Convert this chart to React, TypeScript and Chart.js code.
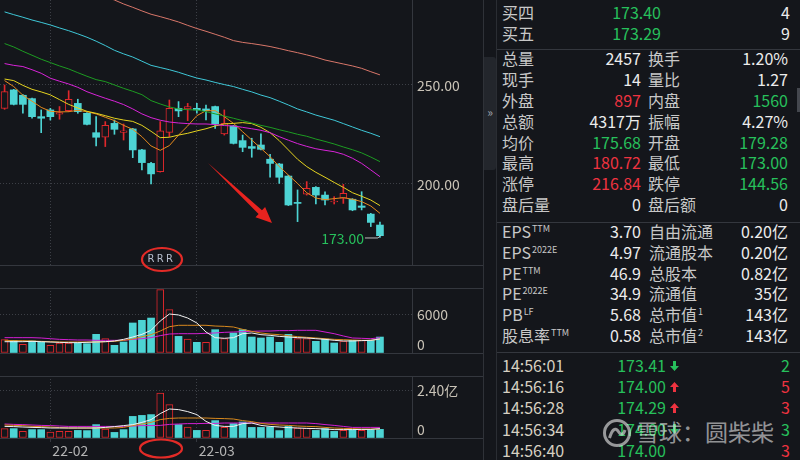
import React, { useEffect, useRef } from "react";
import { Chart, registerables } from "chart.js";

Chart.register(...registerables);

const BG = "#14161b";
const SEP = "#34373e";
const GRID = "#3c3f46";
const AXIS_TEXT = "#c9c3b7";
const UP = "#e0282c";
const DOWN = "#4dd4d4";
const GREEN = "#27c05c";
const RED = "#ee3340";
const LABEL = "#c8c8c8";
const VALUE = "#ececec";
const TIME = "#d6d0c2";
const FONT = '"Noto Sans CJK SC", "Noto Sans", sans-serif';

// ---------- data ----------
const dates = [
  "2022-01-24", "2022-01-25", "2022-01-26", "2022-01-27", "2022-01-28",
  "2022-02-07", "2022-02-08", "2022-02-09", "2022-02-10", "2022-02-11",
  "2022-02-14", "2022-02-15", "2022-02-16", "2022-02-17", "2022-02-18",
  "2022-02-21", "2022-02-22", "2022-02-23", "2022-02-24", "2022-02-25",
  "2022-02-28", "2022-03-01", "2022-03-02", "2022-03-03", "2022-03-04",
  "2022-03-07", "2022-03-08", "2022-03-09", "2022-03-10", "2022-03-11",
  "2022-03-14", "2022-03-15", "2022-03-16", "2022-03-17", "2022-03-18",
  "2022-03-21", "2022-03-22", "2022-03-23", "2022-03-24", "2022-03-25",
  "2022-03-28", "2022-03-29",
];

const opens = [238.2, 247.5, 244.8, 243.1, 234.0, 237.4, 235.2, 237.0, 240.7, 235.7, 225.9, 223.6, 230.6, 226.1, 227.8, 217.2, 210.4, 206.2, 226.1, 238.2, 237.9, 238.2, 237.9, 239.1, 225.3, 229.3, 221.9, 218.9, 219.7, 212.5, 210.1, 204.0, 190.7, 194.9, 198.3, 194.4, 190.9, 192.8, 192.3, 188.9, 184.8, 179.28];
const highs = [250.0, 247.8, 245.1, 243.4, 237.4, 238.2, 239.1, 247.1, 242.8, 236.0, 234.0, 231.5, 232.3, 230.3, 228.1, 217.5, 210.9, 231.5, 242.4, 241.6, 240.7, 240.7, 239.9, 239.4, 237.4, 229.6, 224.7, 223.1, 225.3, 215.0, 210.4, 204.4, 197.0, 201.2, 198.7, 196.1, 193.6, 199.8, 192.6, 196.1, 185.2, 180.72];
const lows = [237.7, 239.9, 235.7, 233.2, 225.9, 232.3, 232.7, 236.5, 235.7, 229.8, 219.2, 218.9, 225.1, 222.2, 213.3, 207.1, 200.0, 206.0, 223.9, 234.0, 232.0, 235.7, 232.3, 228.1, 224.7, 220.2, 216.3, 213.5, 217.2, 203.4, 200.3, 189.1, 181.0, 194.4, 189.9, 189.4, 189.9, 190.2, 186.5, 186.9, 178.5, 173.0];
const closes = [246.6, 240.2, 240.2, 234.0, 233.2, 234.0, 236.0, 242.8, 236.5, 230.1, 223.6, 229.6, 227.6, 226.8, 217.2, 210.8, 205.1, 226.9, 238.2, 236.9, 239.1, 237.4, 237.0, 230.3, 230.6, 220.5, 218.5, 218.0, 217.5, 210.4, 203.4, 189.4, 190.2, 197.8, 194.4, 191.9, 191.4, 195.3, 186.9, 188.2, 180.6, 173.9];

const ma5 = [252.2, 249.2, 244.8, 241.8, 238.7, 236.7, 236.4, 236.5, 237.2, 236.5, 235.4, 233.7, 232.0, 229.6, 227.6, 223.9, 219.2, 217.0, 219.4, 224.7, 229.3, 234.5, 237.0, 237.0, 234.0, 230.6, 226.4, 222.2, 218.0, 213.8, 208.8, 204.5, 200.3, 195.6, 192.9, 192.1, 192.6, 193.1, 192.3, 191.1, 188.9, 185.2];
const ma10 = [253.0, 252.2, 249.8, 247.8, 246.5, 245.0, 242.6, 240.2, 238.4, 236.7, 235.7, 234.5, 233.2, 232.3, 231.6, 229.6, 226.6, 223.4, 223.6, 224.7, 225.6, 226.8, 227.9, 229.3, 230.3, 230.6, 231.0, 230.5, 228.6, 225.9, 221.9, 217.2, 212.5, 208.8, 205.9, 203.4, 200.8, 198.3, 195.6, 193.8, 191.9, 189.1];
const ma20 = [260.8, 259.9, 259.3, 257.7, 255.9, 253.4, 251.9, 250.5, 248.8, 246.6, 244.9, 243.3, 241.8, 240.1, 237.9, 235.4, 233.5, 232.2, 231.3, 230.8, 230.5, 230.3, 230.3, 230.0, 229.5, 229.3, 228.6, 227.9, 227.1, 225.9, 223.9, 222.1, 220.4, 219.0, 217.8, 217.0, 216.3, 215.0, 213.0, 210.4, 207.1, 203.7];
const ma30 = [270.9, 269.2, 267.0, 265.0, 263.0, 261.3, 259.6, 258.1, 256.2, 254.4, 252.7, 251.7, 250.0, 248.3, 246.8, 245.1, 242.1, 240.4, 238.9, 237.9, 237.5, 237.4, 236.5, 235.4, 234.3, 233.2, 232.0, 230.8, 229.6, 228.6, 227.4, 226.3, 225.1, 224.1, 222.7, 221.5, 220.2, 218.7, 217.3, 215.7, 213.6, 211.3];
const ma60 = [286.9, 285.5, 284.2, 282.8, 281.6, 280.3, 278.8, 277.4, 275.8, 274.1, 272.1, 269.9, 267.5, 265.7, 264.1, 262.0, 259.9, 258.8, 257.7, 256.4, 254.9, 253.5, 252.5, 251.3, 250.2, 249.2, 247.8, 246.5, 244.9, 243.6, 241.8, 239.9, 237.9, 236.4, 234.8, 233.5, 232.2, 230.5, 228.8, 227.1, 225.6, 223.9];
const ma120 = [null, null, null, null, null, null, null, null, null, null, null, 294.6, 292.9, 290.9, 289.2, 287.4, 285.7, 284.5, 283.2, 281.8, 280.1, 278.5, 277.1, 275.6, 274.1, 272.4, 271.5, 270.9, 270.2, 269.4, 268.4, 267.3, 266.3, 265.2, 264.0, 262.6, 261.6, 260.6, 259.6, 258.4, 256.7, 255.1];

const volumes = [2050, 1950, 1330, 1850, 1690, 1180, 1540, 1540, 1540, 1440, 2870, 2200, 1180, 1690, 4620, 5030, 5380, 9740, 6670, 2560, 2150, 1640, 1640, 3590, 2200, 3080, 3590, 2460, 2310, 2460, 1640, 2870, 2200, 2200, 1800, 2150, 1540, 1850, 1950, 1950, 1950, 2457];
const volRise = [1, 0, 1, 0, 0, 1, 1, 1, 0, 0, 0, 1, 0, 0, 0, 0, 0, 1, 1, 0, 1, 0, 1, 0, 1, 0, 0, 0, 0, 0, 0, 0, 1, 1, 0, 0, 0, 1, 0, 1, 0, 0];
const volMa5 = [1740, 1740, 1740, 1790, 1740, 1690, 1640, 1590, 1590, 1640, 1690, 1740, 1850, 2100, 2460, 2870, 3490, 4920, 6000, 5850, 5380, 4620, 3230, 2360, 2260, 2360, 2970, 3080, 2820, 2720, 2560, 2460, 2360, 2310, 2200, 2100, 1950, 1850, 1850, 1900, 1950, 2150];
const volMa10 = [1950, 1900, 1900, 1850, 1790, 1740, 1690, 1690, 1690, 1690, 1690, 1740, 1790, 1950, 2150, 2510, 2820, 3380, 4050, 4260, 4260, 4260, 4260, 4150, 4100, 4000, 3640, 3330, 3080, 2920, 2820, 2670, 2510, 2410, 2310, 2200, 2100, 2050, 2000, 1950, 1950, 2150];
const volMa20 = [2360, 2360, 2360, 2360, 2310, 2200, 2100, 2050, 2000, 2000, 1950, 1950, 1950, 1950, 2100, 2200, 2360, 2670, 2920, 2970, 2970, 2970, 3030, 3080, 3180, 3230, 3280, 3330, 3380, 3380, 3440, 3440, 3490, 3490, 3490, 3230, 2970, 2620, 2310, 2260, 2200, 2360];

const amounts = [0.47, 0.47, 0.33, 0.42, 0.42, 0.30, 0.33, 0.33, 0.38, 0.37, 0.67, 0.45, 0.28, 0.42, 1.08, 1.13, 1.17, 2.25, 1.67, 0.67, 0.55, 0.38, 0.38, 0.87, 0.53, 0.72, 0.80, 0.53, 0.53, 0.55, 0.37, 0.58, 0.50, 0.50, 0.38, 0.47, 0.33, 0.38, 0.42, 0.38, 0.42, 0.4317];
const amtMa5 = [0.58, 0.57, 0.55, 0.53, 0.52, 0.50, 0.50, 0.50, 0.50, 0.50, 0.50, 0.53, 0.57, 0.62, 0.67, 0.78, 0.92, 1.22, 1.45, 1.42, 1.32, 1.17, 0.83, 0.63, 0.58, 0.58, 0.72, 0.75, 0.63, 0.58, 0.55, 0.52, 0.50, 0.48, 0.47, 0.45, 0.42, 0.42, 0.42, 0.43, 0.43, 0.47];
const amtMa10 = [0.65, 0.63, 0.62, 0.58, 0.57, 0.55, 0.52, 0.50, 0.50, 0.50, 0.50, 0.50, 0.50, 0.53, 0.62, 0.70, 0.78, 0.92, 0.98, 1.00, 1.00, 1.00, 1.00, 0.98, 0.97, 0.95, 0.87, 0.82, 0.73, 0.68, 0.65, 0.63, 0.60, 0.58, 0.57, 0.53, 0.50, 0.48, 0.47, 0.45, 0.45, 0.45];
const amtMa20 = [0.70, 0.68, 0.67, 0.65, 0.63, 0.62, 0.60, 0.58, 0.58, 0.58, 0.58, 0.58, 0.58, 0.58, 0.60, 0.62, 0.62, 0.63, 0.68, 0.70, 0.72, 0.72, 0.73, 0.73, 0.75, 0.75, 0.75, 0.75, 0.75, 0.75, 0.75, 0.75, 0.75, 0.75, 0.72, 0.67, 0.63, 0.58, 0.53, 0.53, 0.53, 0.53];

const priceTicks = [200, 250];
const volTicks = [0, 6000];
const amtTicks = [0, 2.4];
const rMarkers = [16, 17, 18];

const buyRows = [
  ["买四", "173.40", "4"],
  ["买五", "173.29", "9"],
];
// label, value, colour, label, value, colour
const quoteRows = [
  ["总量", "2457", "w", "换手", "1.20%", "w"],
  ["现手", "14", "w", "量比", "1.27", "w"],
  ["外盘", "897", "r", "内盘", "1560", "g"],
  ["总额", "4317万", "w", "振幅", "4.27%", "w"],
  ["均价", "175.68", "g", "开盘", "179.28", "g"],
  ["最高", "180.72", "r", "最低", "173.00", "g"],
  ["涨停", "216.84", "r", "跌停", "144.56", "g"],
  ["盘后量", "0", "w", "盘后额", "0", "w"],
];
// label, superscript, value, label, superscript, value
const fundRows = [
  ["EPS", "TTM", "3.70", "自由流通", "", "0.20亿"],
  ["EPS", "2022E", "4.97", "流通股本", "", "0.20亿"],
  ["PE", "TTM", "46.9", "总股本", "", "0.82亿"],
  ["PE", "2022E", "34.9", "流通值", "", "35亿"],
  ["PB", "LF", "5.68", "总市值", "1", "143亿"],
  ["股息率", "TTM", "0.58", "总市值", "2", "143亿"],
];
// time, price, arrow, count, count colour
const tradeRows = [
  ["14:56:01", "173.41", "down", "2", "g"],
  ["14:56:16", "174.00", "up", "5", "r"],
  ["14:56:28", "174.29", "up", "3", "r"],
  ["14:56:34", "174.00", "down", "3", "g"],
  ["14:56:40", "174.00", "", "3", "r"],
];

// ---------- helpers ----------
const idx = dates.map((_, i) => i);
const monthStarts = idx.filter((i) => i > 0 && dates[i].slice(0, 7) !== dates[i - 1].slice(0, 7));
const colorOf = (k: string) => (k === "r" ? RED : k === "g" ? GREEN : VALUE);

function xScale(showLabels: boolean) {
  return {
    type: "linear",
    min: -0.5,
    max: 44.5,
    offset: false,
    afterBuildTicks: (s: any) => {
      s.ticks = monthStarts.map((v) => ({ value: v }));
    },
    afterFit: (s: any) => {
      s.height = showLabels ? 22 : 1;
      s.paddingLeft = 0;
      s.paddingRight = 0;
    },
    grid: {
      color: GRID,
      offset: false,
      drawTicks: showLabels,
      tickLength: 4,
      tickColor: SEP,
    },
    border: { display: false, dash: [1, 2] },
    ticks: {
      display: showLabels,
      autoSkip: false,
      maxRotation: 0,
      align: "start",
      labelOffset: 2,
      padding: 0,
      color: "#b4b4b4",
      font: { family: FONT, size: 14 },
      callback: (v: any) => (dates[Math.round(v)] ? dates[Math.round(v)].slice(2, 7) : ""),
    },
  };
}

function yScale(min: number, max: number, tickVals: number[]) {
  return {
    position: "right",
    min,
    max,
    afterBuildTicks: (s: any) => {
      s.ticks = tickVals.map((v) => ({ value: v }));
    },
    afterFit: (s: any) => {
      s.width = 71;
      s.paddingTop = 0;
      s.paddingBottom = 0;
    },
    grid: { color: GRID, drawTicks: false, offset: false },
    border: { display: true, color: SEP, dash: [1, 2] },
    ticks: { display: false },
  };
}

function panelPlugin(top: boolean, bottom: boolean, fmt: (v: number) => string) {
  return {
    id: "panel",
    afterDraw(chart: any) {
      const { ctx, chartArea, scales, width } = chart;
      ctx.save();
      ctx.strokeStyle = SEP;
      ctx.lineWidth = 1;
      ctx.setLineDash([]);
      if (top) {
        ctx.beginPath();
        ctx.moveTo(0, chartArea.top + 0.5);
        ctx.lineTo(width, chartArea.top + 0.5);
        ctx.stroke();
      }
      if (bottom) {
        ctx.beginPath();
        ctx.moveTo(0, chartArea.bottom + 0.5);
        ctx.lineTo(width, chartArea.bottom + 0.5);
        ctx.stroke();
      }
      const ys = scales.y;
      ctx.fillStyle = AXIS_TEXT;
      ctx.font = `14px ${FONT}`;
      ctx.textAlign = "left";
      ys.ticks.forEach((t: any) => {
        const py = ys.getPixelForValue(t.value);
        const atBase = t.value === ys.min;
        ctx.textBaseline = atBase ? "bottom" : "middle";
        ctx.fillText(fmt(t.value), ys.left + 5, atBase ? py - 1 : py + 1);
      });
      ctx.restore();
    },
  };
}

const markPlugin = {
  id: "marks",
  afterDatasetsDraw(chart: any) {
    const { ctx, chartArea, scales } = chart;
    const xs = scales.x;
    const ys = scales.y;
    let li = 0;
    lows.forEach((v, i) => {
      if (v < lows[li]) li = i;
    });
    const px = xs.getPixelForValue(li);
    const py = ys.getPixelForValue(lows[li]);
    ctx.save();
    ctx.strokeStyle = "#bdbdbd";
    ctx.lineWidth = 1;
    ctx.beginPath();
    ctx.moveTo(px - 15, py + 0.5);
    ctx.lineTo(px - 2, py + 0.5);
    ctx.lineTo(px + 1, py - 2.5);
    ctx.stroke();
    ctx.fillStyle = GREEN;
    ctx.font = `14px ${FONT}`;
    ctx.textAlign = "right";
    ctx.textBaseline = "middle";
    ctx.fillText(lows[li].toFixed(2), px - 16, py + 1);
    ctx.fillStyle = "#b4bccb";
    ctx.font = `10px "DejaVu Sans", sans-serif`;
    ctx.textAlign = "center";
    rMarkers.forEach((i) => ctx.fillText("R", xs.getPixelForValue(i), chartArea.bottom - 6));
    ctx.restore();
  },
};

const baseOptions = {
  responsive: false,
  animation: false,
  devicePixelRatio: 1,
  events: [],
  layout: { padding: 0 },
  plugins: { legend: { display: false }, tooltip: { enabled: false } },
};

function lineSet(data: (number | null)[], color: string) {
  return {
    type: "line",
    data: idx.map((i) => ({ x: i, y: data[i] })),
    borderColor: color,
    borderWidth: 1,
    pointRadius: 0,
    tension: 0,
    spanGaps: false,
    order: 0,
  };
}

function mainConfig(): any {
  const rise = (i: number) => closes[i] >= opens[i];
  return {
    type: "bar",
    data: {
      datasets: [
        lineSet(ma120, "#d9776a"),
        lineSet(ma60, "#3fc8d8"),
        lineSet(ma30, "#1d9c22"),
        lineSet(ma20, "#d924d9"),
        lineSet(ma10, "#e6d420"),
        lineSet(ma5, "#e68a1e"),
        {
          type: "bar",
          data: idx.map((i) => ({ x: i, y: [opens[i], closes[i]] })),
          backgroundColor: idx.map((i) => (rise(i) ? BG : DOWN)),
          borderColor: idx.map((i) => (rise(i) ? UP : DOWN)),
          borderWidth: idx.map((i) => (rise(i) ? 1 : 0)),
          borderSkipped: false,
          barThickness: 7,
          minBarLength: 1,
          grouped: false,
          order: 1,
        },
        {
          type: "bar",
          data: idx.map((i) => ({ x: i, y: [lows[i], highs[i]] })),
          backgroundColor: idx.map((i) => (rise(i) ? UP : DOWN)),
          borderWidth: 0,
          barThickness: 1,
          grouped: false,
          order: 2,
        },
      ],
    },
    options: {
      ...baseOptions,
      scales: { x: xScale(false), y: yScale(159.1, 292.9, priceTicks) },
    },
    plugins: [panelPlugin(false, true, (v) => v.toFixed(2)), markPlugin],
  };
}

function subConfig(values: number[], m5: number[], m10: number[], m20: number[], max: number, ticks: number[], showDates: boolean, fmt: (v: number) => string): any {
  return {
    type: "bar",
    data: {
      datasets: [
        lineSet(m5, "#f2f2f2"),
        lineSet(m10, "#d8891e"),
        lineSet(m20, "#d21fd2"),
        {
          type: "bar",
          data: idx.map((i) => ({ x: i, y: values[i] })),
          backgroundColor: idx.map((i) => (volRise[i] ? BG : DOWN)),
          borderColor: idx.map((i) => (volRise[i] ? UP : DOWN)),
          borderWidth: idx.map((i) => (volRise[i] ? 1 : 0)),
          borderSkipped: false,
          barThickness: 7,
          grouped: false,
          order: 1,
        },
      ],
    },
    options: {
      ...baseOptions,
      scales: { x: xScale(showDates), y: yScale(0, max, ticks) },
    },
    plugins: [panelPlugin(true, true, fmt)],
  };
}

function ChartCanvas({ build, top, height }: { build: () => any; top: number; height: number }) {
  const ref = useRef<HTMLCanvasElement>(null);
  useEffect(() => {
    const chart = new Chart(ref.current as HTMLCanvasElement, build());
    return () => chart.destroy();
  }, []);
  return (
    <canvas
      ref={ref}
      width={483}
      height={height}
      style={{ position: "absolute", left: 0, top, width: 483, height }}
    />
  );
}

function Txt({ x, r, y, c, s = 16, children }: { x?: number; r?: number; y: number; c: string; s?: number; children: React.ReactNode }) {
  return (
    <div
      style={{
        position: "absolute",
        left: x,
        right: r !== undefined ? 800 - r : undefined,
        top: y - 11,
        height: 20,
        lineHeight: "20px",
        fontSize: s,
        color: c,
        whiteSpace: "nowrap",
        fontFamily: FONT,
      }}
    >
      {children}
    </div>
  );
}

const Sup = ({ t }: { t: string }) =>
  t ? <span style={{ fontSize: 9, position: "relative", top: -6, marginLeft: 1 }}>{t}</span> : null;

function Arrow({ dir, x, y }: { dir: string; x: number; y: number }) {
  if (!dir) return null;
  const pts = dir === "down" ? "4.5,10 0,5 3,5 3,0 6,0 6,5 9,5" : "4.5,0 0,5 3,5 3,10 6,10 6,5 9,5";
  return (
    <svg style={{ position: "absolute", left: x, top: y - 5.5 }} width={9} height={10} viewBox="0 0 9 10">
      <polygon points={pts} fill={dir === "down" ? GREEN : RED} />
    </svg>
  );
}

const HLine = ({ y }: { y: number }) => (
  <div style={{ position: "absolute", left: 497, top: y, width: 303, height: 1, background: SEP }} />
);

export default function App() {
  const wm = "rgba(232,232,232,0.62)";
  return (
    <div
      style={{
        position: "fixed",
        left: 0,
        top: 0,
        width: 800,
        height: 460,
        background: BG,
        overflow: "hidden",
        fontFamily: FONT,
      }}
    >
      <ChartCanvas build={mainConfig} top={0} height={266} />
      <ChartCanvas
        build={() => subConfig(volumes, volMa5, volMa10, volMa20, 10000, volTicks, false, (v) => String(v))}
        top={288}
        height={66}
      />
      <ChartCanvas
        build={() => subConfig(amounts, amtMa5, amtMa10, amtMa20, 3.1, amtTicks, true, (v) => (v === 0 ? "0" : v.toFixed(2) + "亿"))}
        top={376}
        height={84}
      />

      {/* frame lines and collapse tab */}
      <div style={{ position: "absolute", left: 483, top: 0, width: 1, height: 460, background: "#2f3238" }} />
      <div style={{ position: "absolute", left: 496, top: 0, width: 1, height: 460, background: "#2a2d33" }} />
      <div style={{ position: "absolute", left: 484, top: 57, width: 12, height: 113, background: "#23262c", borderRadius: "0 3px 3px 0" }} />
      <div style={{ position: "absolute", left: 485, top: 104, width: 10, fontSize: 12, lineHeight: "16px", color: "#9ea2aa", textAlign: "center" }}>»</div>
      <div style={{ position: "absolute", left: 797, top: 88, width: 3, height: 24, background: "#44474e" }} />

      {/* right panel */}
      {buyRows.map((row, k) => {
        const y = 13 + 21 * k;
        return (
          <React.Fragment key={"b" + k}>
            <Txt x={502} y={y} c={LABEL}>{row[0]}</Txt>
            <Txt r={661} y={y} c={GREEN}>{row[1]}</Txt>
            <Txt r={790} y={y} c={VALUE}>{row[2]}</Txt>
          </React.Fragment>
        );
      })}
      <HLine y={49} />
      {quoteRows.map((row, k) => {
        const y = 59.3 + 20.8 * k;
        return (
          <React.Fragment key={"q" + k}>
            <Txt x={502} y={y} c={LABEL}>{row[0]}</Txt>
            <Txt r={641} y={y} c={colorOf(row[2])}>{row[1]}</Txt>
            <Txt x={648} y={y} c={LABEL}>{row[3]}</Txt>
            <Txt r={788} y={y} c={colorOf(row[5])}>{row[4]}</Txt>
          </React.Fragment>
        );
      })}
      <HLine y={222} />
      {fundRows.map((row, k) => {
        const y = 232.3 + 20.7 * k;
        return (
          <React.Fragment key={"f" + k}>
            <Txt x={502} y={y} c={LABEL}>
              {row[0]}
              <Sup t={row[1]} />
            </Txt>
            <Txt r={641} y={y} c={VALUE}>{row[2]}</Txt>
            <Txt x={649} y={y} c={LABEL}>
              {row[3]}
              <Sup t={row[4]} />
            </Txt>
            <Txt r={788} y={y} c={VALUE}>{row[5]}</Txt>
          </React.Fragment>
        );
      })}
      <HLine y={352} />
      {tradeRows.map((row, k) => {
        const y = 366 + 21.2 * k;
        return (
          <React.Fragment key={"t" + k}>
            <Txt x={502} y={y} c={TIME}>{row[0]}</Txt>
            <Txt r={666} y={y} c={GREEN}>{row[1]}</Txt>
            <Arrow dir={row[2]} x={670} y={y} />
            <Txt r={790} y={y} c={colorOf(row[4])}>{row[3]}</Txt>
          </React.Fragment>
        );
      })}

      {/* watermark */}
      <svg style={{ position: "absolute", left: 602, top: 418 }} width={30} height={30} viewBox="0 0 30 30">
        <circle cx="15" cy="15" r="12.5" fill="none" stroke={wm} strokeWidth="3" />
        <path d="M7.5 20 C 10 12, 13 9, 16 13 C 18.5 17, 21 18, 23 12" fill="none" stroke={wm} strokeWidth="3" />
      </svg>
      <Txt x={636} y={432} c={wm} s={23}>雪球：圆柴柴</Txt>

      {/* hand-drawn annotations */}
      <svg style={{ position: "absolute", left: 0, top: 0, pointerEvents: "none" }} width={800} height={460}>
        <polygon points="208,163 262,210.3 265.1,207 272,223 255.5,217.2 258.6,213.9" fill="#e8231f" />
        <ellipse cx={162} cy={259.5} rx={20} ry={11.5} fill="none" stroke="#e32b27" strokeWidth={2.2} />
        <ellipse cx={161} cy={448.5} rx={21} ry={9} fill="none" stroke="#e32b27" strokeWidth={2.2} />
      </svg>
    </div>
  );
}
